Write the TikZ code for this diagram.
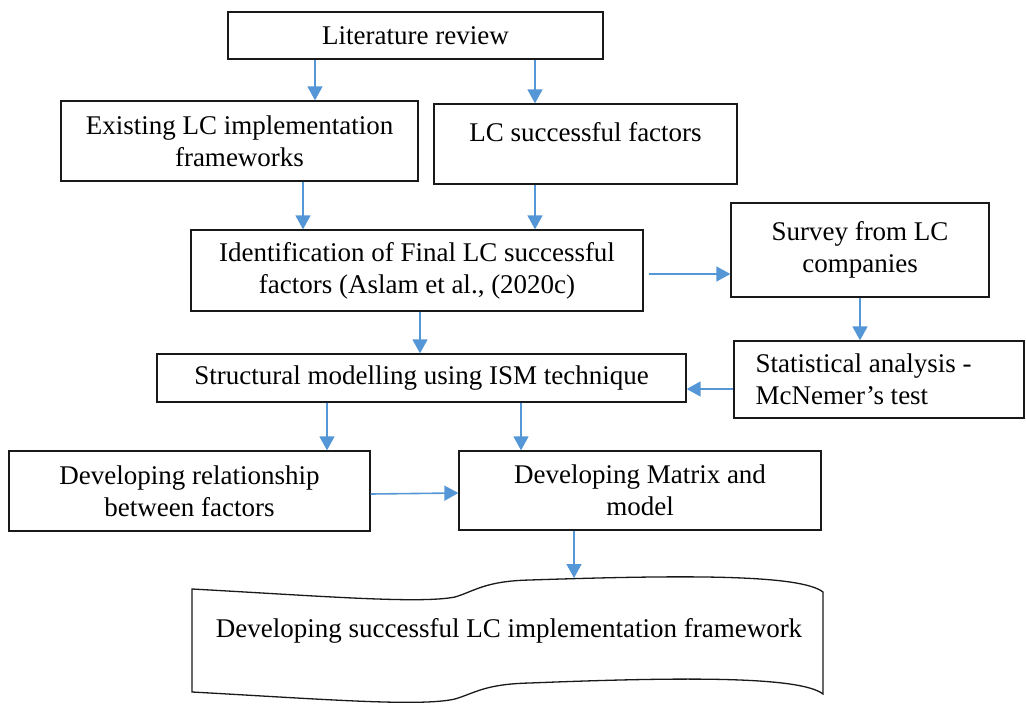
\documentclass[tikz,border=0pt]{standalone}
\usepackage{fontspec}
\setmainfont{Liberation Serif}
\usetikzlibrary{arrows.meta}
\definecolor{arrowblue}{RGB}{84,150,214}
\definecolor{edge}{RGB}{25,25,25}
\begin{document}
\begin{tikzpicture}[x=1pt,y=-1pt,
  box/.style={draw=edge, line width=1.3pt, fill=white, inner sep=0pt, align=center,
    font=\fontsize{27}{32}\selectfont},
  txt/.style={inner sep=0pt, font=\fontsize{27}{32}\selectfont},
  flow/.style={draw=arrowblue, line width=1.6pt, -{Triangle[length=14pt,width=15pt]}},
  tape/.style={draw=edge, line width=1.3pt, fill=white}]
\useasboundingbox (0,0) rectangle (1026,704);

% process boxes
\node[box, minimum width=375pt, minimum height=47pt] (lit) at (415.5,35.5) {Literature review};
\node[box, minimum width=357pt, minimum height=80pt] (exist) at (239.5,141) {Existing LC implementation\\frameworks};
\node[box, minimum width=303pt, minimum height=80pt,
  label={[txt, name=lcsf-t, yshift=12pt]center:LC successful factors}] (lcsf) at (585.5,144) {};
\node[box, minimum width=452pt, minimum height=81pt] (ident) at (417,270.5) {Identification of Final LC successful\\factors (Aslam et al., (2020c)};
\node[box, minimum width=258pt, minimum height=94pt] (survey) at (860,250) {Survey from LC\\companies};
\node[box, minimum width=290pt, minimum height=77pt] (stat) at (879,379.5) {};
\node[txt, anchor=west, align=left] (stat-t) at ([xshift=22pt]stat.west) {Statistical analysis -\\McNemer’s test};
\node[box, minimum width=529pt, minimum height=48pt] (ism) at (421.5,378) {Structural modelling using ISM technique};
\node[box, minimum width=361pt, minimum height=80pt] (rel) at (189.5,491) {Developing relationship\\between factors};
\node[box, minimum width=362pt, minimum height=79pt] (matrix) at (640,490.5) {Developing Matrix and\\model};

% final outcome drawn as a wavy tape
\draw[tape] (192,589) .. controls (320,596) and (420,604) .. (455,597)
  .. controls (475,591) and (485,581) .. (530,580)
  .. controls (680,575) and (800,574) .. (823,592)
  -- (823,694)
  .. controls (800,676) and (680,677) .. (530,683)
  .. controls (485,684) and (475,693) .. (455,699)
  .. controls (420,707) and (320,699) .. (192,692) -- cycle;
\node[txt] (doc) at (509,631) {Developing successful LC implementation framework};
\coordinate (doctop) at (574,578);

% connectors
\draw[flow] (315,0 |- lit.south) -- (315,0 |- exist.north);
\draw[flow] (535,0 |- lit.south) -- (535,0 |- lcsf.north);
\draw[flow] (303,0 |- exist.south) -- (303,0 |- ident.north);
\draw[flow] (535,0 |- lcsf.south) -- (535,0 |- ident.north);
\draw[flow] ([xshift=5pt]ident.east |- 0,274) -- (survey.west |- 0,274);
\draw[flow] (860,0 |- survey.south) -- (860,0 |- stat.north);
\draw[flow] (stat.west |- 0,389) -- (ism.east |- 0,389);
\draw[flow] (420,0 |- ident.south) -- (420,0 |- ism.north);
\draw[flow] (327,0 |- ism.south) -- (327,0 |- rel.north);
\draw[flow] (521,0 |- ism.south) -- (521,0 |- matrix.north);
\draw[flow] (rel.east |- 0,494) -- (matrix.west |- 0,493);
\draw[flow] (574,0 |- matrix.south) -- (doctop);
\end{tikzpicture}
\end{document}
